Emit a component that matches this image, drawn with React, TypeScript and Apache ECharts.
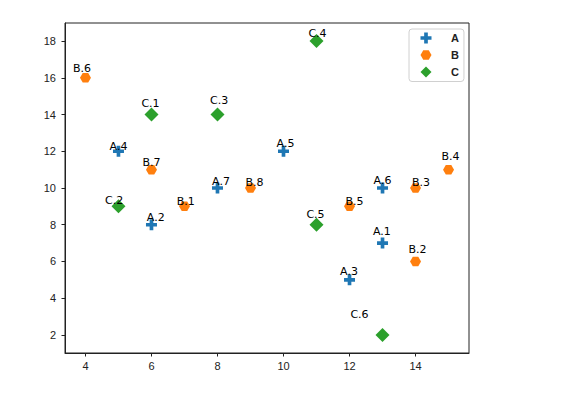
import React, { useEffect, useRef } from "react";
import * as echarts from "echarts";

const namesA = ["A.1", "A.2", "A.3", "A.4", "A.5", "A.6", "A.7"];
const xA = [13, 6, 12, 5, 10, 13, 8];
const yA = [7, 8, 5, 12, 12, 10, 10];

const namesB = ["B.1", "B.2", "B.3", "B.4", "B.5", "B.6", "B.7", "B.8"];
const xB = [7, 14, 14, 15, 12, 4, 6, 9];
const yB = [9, 6, 10, 11, 9, 16, 11, 10];

const namesC = ["C.1", "C.2", "C.3", "C.4", "C.5", "C.6"];
const xC = [6, 5, 8, 11, 11, 13];
const yC = [14, 9, 14, 18, 8, 2];

const xTicks = [4, 6, 8, 10, 12, 14];
const yTicks = [2, 4, 6, 8, 10, 12, 14, 16, 18];

// label placement offsets (px), as laid out in the reference
const offA = [[-0.6, -12], [4.3, -7.6], [-0.5, -8.3], [0, -5], [2, -7.7], [0, -7.3], [3.5, -6.3]];
const offB = [[1.2, -5], [2, -11.7], [5.5, -5.3], [2, -13], [5, -5], [-3.5, -9.6], [0, -7.6], [4, -6]];
const offC = [[-1, -11.4], [-4.3, -5.7], [1.7, -13.7], [1, -8], [-1, -10.3], [-23, -20]];

const PLUS = "path://M-1,-3L1,-3L1,-1L3,-1L3,1L1,1L1,3L-1,3L-1,1L-3,1L-3,-1L-1,-1Z";
const HEX = "path://M-1,0L-0.5,-0.866L0.5,-0.866L1,0L0.5,0.866L-0.5,0.866Z";

function build(names: string[], xs: number[], ys: number[], offs: number[][]) {
  return names.map((n, i) => ({
    name: n,
    value: [xs[i], ys[i]],
    label: { offset: offs[i] },
  }));
}

export default function App() {
  const ref = useRef<HTMLDivElement>(null);
  useEffect(() => {
    if (!ref.current) return;
    const chart = echarts.init(ref.current, undefined, { renderer: "svg" });
    const labelCfg = {
      show: true,
      position: "inside",
      formatter: (p: any) => p.name,
      color: "#000",
      fontFamily: "DejaVu Sans",
      fontSize: 11,
      verticalAlign: "middle",
      align: "center",
    };
    const axisCommon = {
      type: "value",
      axisLine: { show: true, lineStyle: { color: "#222", width: 1 } },
      axisTick: { show: true, length: 3.5, lineStyle: { color: "#222" } },
      splitLine: { show: false },
    };
    chart.setOption({
      animation: false,
      backgroundColor: "#fff",
      grid: {
        left: 65,
        top: 23,
        right: 94,
        bottom: 43,
        show: true,
        borderColor: "#222",
        borderWidth: 1,
        backgroundColor: "transparent",
      },
      xAxis: {
        ...axisCommon,
        min: 3.38,
        max: 15.62,
        axisTick: { ...axisCommon.axisTick, customValues: xTicks },
        axisLabel: {
          customValues: xTicks,
          color: "#222",
          fontFamily: "Liberation Sans",
          fontSize: 11,
          margin: 7,
        },
      },
      yAxis: {
        ...axisCommon,
        min: 1.02,
        max: 18.98,
        axisTick: { ...axisCommon.axisTick, customValues: yTicks },
        axisLabel: {
          customValues: yTicks,
          color: "#222",
          fontFamily: "Liberation Sans",
          fontSize: 11,
          margin: 9,
        },
      },
      legend: {
        orient: "vertical",
        left: 409,
        top: 29,
        padding: [3.5, 5, 4, 11.5],
        itemGap: 6,
        itemWidth: 11,
        itemHeight: 11,
        borderColor: "#d0d0d0",
        borderWidth: 1,
        borderRadius: 3,
        backgroundColor: "#fff",
        textStyle: {
          color: "#222",
          fontFamily: "Liberation Sans",
          fontWeight: "bold",
          fontSize: 11,
          padding: [0, 0, 0, 14.5],
        },
        data: ["A", "B", "C"],
      },
      series: [
        {
          name: "A",
          type: "scatter",
          symbol: PLUS,
          symbolSize: 11,
          itemStyle: { color: "#1f77b4", opacity: 1 },
          label: labelCfg,
          data: build(namesA, xA, yA, offA),
        },
        {
          name: "B",
          type: "scatter",
          symbol: HEX,
          symbolSize: [11, 9.5],
          itemStyle: { color: "#ff7f0e", opacity: 1 },
          label: labelCfg,
          data: build(namesB, xB, yB, offB),
        },
        {
          name: "C",
          type: "scatter",
          symbol: "diamond",
          symbolSize: 14,
          itemStyle: { color: "#2ca02c", opacity: 1 },
          label: labelCfg,
          data: build(namesC, xC, yC, offC),
        },
      ],
    });
    return () => chart.dispose();
  }, []);
  return (
    <div
      ref={ref}
      style={{ position: "absolute", left: 0, top: 0, width: 563, height: 396 }}
    />
  );
}
